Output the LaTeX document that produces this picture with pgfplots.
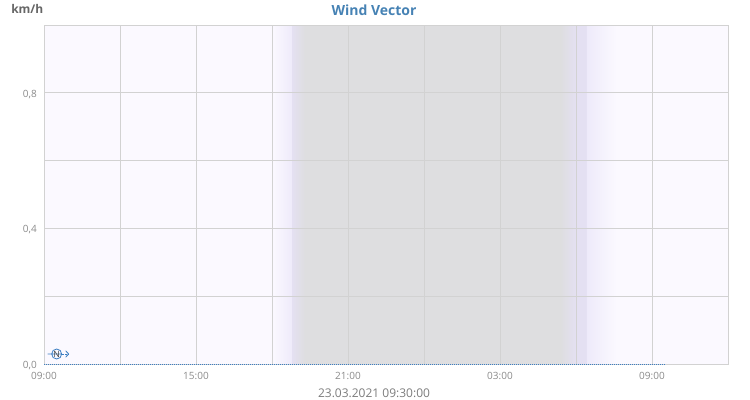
\documentclass[border=0pt]{standalone}
\usepackage{fontspec}
\setmainfont{Open Sans}
\usepackage{pgfplots}
\pgfplotsset{compat=1.18}

\definecolor{bgcol}{HTML}{FBF9FF}
\definecolor{nightgrey}{HTML}{DEDEE0}
\definecolor{twilight}{HTML}{E4E0F2}
\definecolor{twilightlight}{HTML}{EEEAFA}
\definecolor{gridcol}{HTML}{D2D2D2}
\definecolor{titleblue}{HTML}{4682B4}
\definecolor{windblue}{HTML}{3C7EC2}
\definecolor{labelgrey}{HTML}{8A8A8A}
\definecolor{unitgrey}{HTML}{666666}

% wind vector symbol, drawn 10px above its data point
\pgfdeclareplotmark{windvec}{%
  \pgfsetlinewidth{0.6pt}%
  \pgftransformshift{\pgfpoint{0pt}{7.5pt}}%
  \pgfpathmoveto{\pgfpoint{-6.75pt}{0pt}}%
  \pgfpathlineto{\pgfpoint{3.75pt}{0pt}}%
  \pgfpathcircle{\pgfpointorigin}{3.75pt}%
  \pgfusepathqstroke
  \pgfpathmoveto{\pgfpoint{6.75pt}{2.4pt}}%
  \pgfpathlineto{\pgfpoint{9pt}{0pt}}%
  \pgfpathlineto{\pgfpoint{6.75pt}{-2.4pt}}%
  \pgfusepathqstroke
  {\pgfsetdash{{0.6pt}{0.6pt}}{0pt}%
   \pgfpathmoveto{\pgfpoint{3.75pt}{0pt}}%
   \pgfpathlineto{\pgfpoint{8.8pt}{0pt}}%
   \pgfusepathqstroke}%
  \pgftext{\color{black!75}\fontsize{6.5}{6.5}\selectfont N}%
}

\pgfplotsset{
  windframe/.style={
    at={(33pt,27pt)}, anchor=south west,
    scale only axis, width=513pt, height=254.25pt,
    xmin=0, xmax=27, ymin=0, ymax=1,
  },
}

\begin{document}
\begin{tikzpicture}
\useasboundingbox (0,0) rectangle (562.5pt,300pt);
% frame, grid and night shading
\begin{axis}[
  windframe,
  axis on top,
  xtick={0,3,...,27},
  xticklabels={09:00,,15:00,,21:00,,03:00,,09:00,},
  ytick={0,0.2,0.4,0.6,0.8,1},
  yticklabels={{0,0},,{0,4},,{0,8},},
  major tick length=0pt,
  grid=major,
  grid style={gridcol, line width=0.6pt},
  axis line style={gridcol, line width=0.6pt},
  ticklabel style={font=\fontsize{7.5}{9}\selectfont, text=labelgrey},
  xticklabel style={inner sep=0pt, yshift=-6.3pt},
  yticklabel style={inner sep=0pt, xshift=-5.25pt, yshift=-1.2pt},
]
\addplot[draw=none, fill=bgcol] coordinates {(0,1) (27,1)} \closedcycle;
\addplot[draw=none, left color=bgcol, right color=twilightlight] coordinates {(9,0.998) (9.8,0.998)} \closedcycle;
\addplot[draw=none, left color=twilight, right color=nightgrey] coordinates {(9.79,0.998) (10.3,0.998)} \closedcycle;
\addplot[draw=none, fill=nightgrey] coordinates {(10.29,1) (20.41,1)} \closedcycle;
\addplot[draw=none, left color=nightgrey, right color=twilight] coordinates {(20.4,0.998) (21.01,0.998)} \closedcycle;
\addplot[draw=none, fill=twilight] coordinates {(21,1) (21.44,1)} \closedcycle;
\addplot[draw=none, left color=twilightlight, right color=bgcol] coordinates {(21.43,0.998) (22.6,0.998)} \closedcycle;
\end{axis}
% wind speed, on top of the frame
\begin{axis}[
  windframe,
  axis lines=none,
  clip=false,
]
\addplot[windblue, line width=0.75pt, dash pattern=on 0.75pt off 0.75pt, mark=none] coordinates {(0,0) (24.5,0)};
\addplot[windblue, only marks, mark=windvec] coordinates {(0.5,0)};
\end{axis}
\node[font=\bfseries\fontsize{10.5}{12}\selectfont, text=titleblue] at (280.5pt,292.5pt) {Wind Vector};
\node[font=\bfseries\fontsize{9}{10}\selectfont, text=unitgrey, anchor=west, inner sep=0pt] at (8.25pt,293.25pt) {km/h};
\node[font=\fontsize{9}{11}\selectfont, text=labelgrey!90!black] at (280.5pt,5.25pt) {23.03.2021 09:30:00};
\end{tikzpicture}
\end{document}
